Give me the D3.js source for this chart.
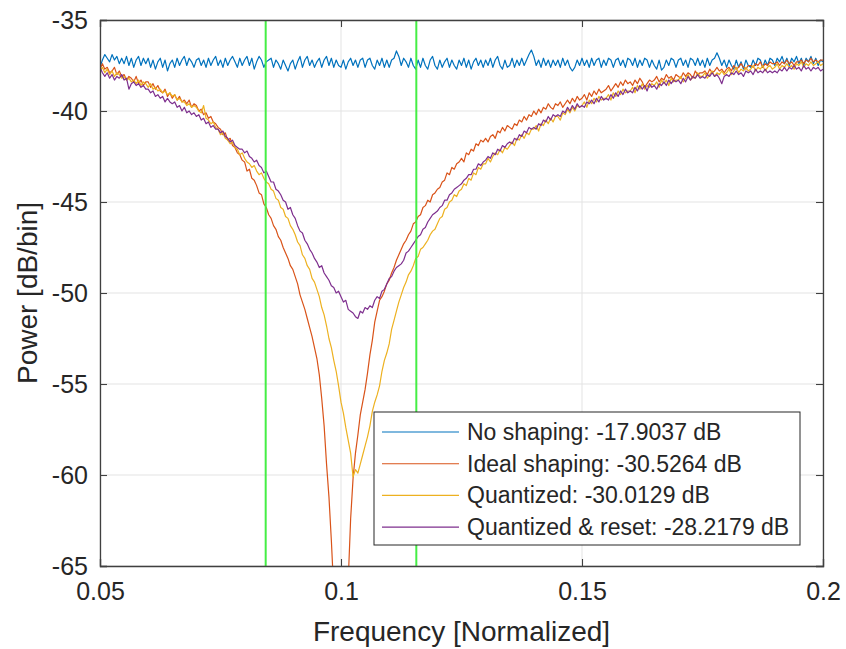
<!DOCTYPE html>
<html>
<head>
<meta charset="utf-8">
<script src="https://cdn.jsdelivr.net/npm/d3@7"></script>
<style>
  body { margin: 0; background: #fff; }
  text { font-family: "Liberation Sans", Arial, Helvetica, sans-serif; fill: #262626; }
</style>
</head>
<body>
<svg id="chart" width="846" height="649"></svg>
<script>
// Frequency grid: 0.05 .. 0.2, one sample every 0.0005 (301 bins)
var freqStart = 0.05, freqStep = 0.0005, nBins = 301;

// Power [dB/bin] per bin (rows of 10 bins = 0.005)
var noShaping = [
  -37.6,-37.2,-36.9,-37.1,-37.3,-36.9,-37.2,-37.0,-37.4,-37.1,
  -37.4,-37.0,-37.5,-37.1,-37.6,-37.2,-37.0,-37.5,-37.1,-37.4,
  -37.1,-37.6,-37.2,-37.7,-37.3,-37.1,-37.6,-37.2,-37.8,-37.4,
  -37.2,-37.6,-37.1,-37.5,-37.2,-37.0,-37.5,-37.1,-37.3,-37.6,
  -37.2,-37.1,-37.5,-37.2,-37.6,-37.1,-37.5,-37.2,-37.0,-37.5,
  -37.2,-37.6,-37.1,-37.5,-37.2,-37.0,-37.3,-37.6,-37.1,-37.5,
  -37.2,-37.0,-37.5,-37.1,-37.7,-37.3,-37.0,-37.2,-37.6,-37.3,
  -37.2,-37.1,-37.6,-37.2,-37.4,-37.7,-37.2,-37.5,-37.8,-37.4,
  -37.2,-37.7,-37.3,-37.0,-37.6,-37.2,-37.0,-37.5,-37.2,-37.6,
  -37.3,-37.1,-37.6,-37.2,-37.0,-37.5,-37.1,-37.6,-37.2,-37.5,
  -37.6,-37.2,-37.7,-37.3,-37.1,-37.5,-37.2,-37.6,-37.2,-37.1,
  -37.6,-37.2,-37.1,-37.5,-37.7,-37.2,-37.5,-37.1,-37.6,-37.2,
  -37.6,-37.2,-37.1,-36.7,-37.0,-37.5,-37.1,-37.3,-37.6,-37.1,
  -37.5,-37.7,-37.2,-37.6,-37.1,-37.5,-37.7,-37.2,-37.0,-37.5,
  -37.7,-37.2,-37.6,-37.3,-37.1,-37.6,-37.2,-37.5,-37.7,-37.2,
  -37.5,-37.1,-37.6,-37.2,-37.7,-37.3,-37.1,-37.5,-37.2,-37.6,
  -37.2,-37.5,-37.1,-37.6,-37.2,-37.0,-37.5,-37.7,-37.2,-37.6,
  -37.5,-37.1,-37.6,-37.2,-37.5,-37.1,-37.5,-37.2,-36.9,-36.65,
  -37.0,-37.5,-37.2,-37.6,-37.1,-37.5,-37.2,-37.6,-37.2,-37.5,
  -37.2,-37.6,-37.1,-37.5,-37.2,-37.6,-37.8,-37.6,-37.2,-37.5,
  -37.1,-37.5,-37.2,-37.6,-37.1,-37.5,-37.2,-37.1,-37.6,-37.2,
  -37.5,-37.1,-37.2,-37.6,-37.2,-37.1,-37.5,-37.2,-37.6,-37.1,
  -37.2,-37.5,-37.1,-37.6,-37.2,-37.5,-37.1,-37.2,-37.6,-37.2,
  -37.5,-37.7,-37.2,-37.75,-37.6,-37.2,-37.5,-37.1,-37.2,-37.6,
  -37.2,-37.1,-37.5,-37.2,-37.6,-37.1,-37.2,-37.5,-37.1,-37.5,
  -37.2,-37.6,-37.1,-37.5,-37.2,-37.1,-36.8,-37.1,-37.5,-37.2,
  -37.6,-37.2,-37.5,-37.7,-37.2,-37.6,-37.3,-37.7,-37.2,-37.5,
  -37.6,-37.2,-37.5,-37.1,-37.2,-37.6,-37.2,-37.5,-37.1,-37.2,
  -37.5,-37.1,-37.3,-37.0,-37.4,-37.1,-37.5,-37.1,-37.3,-37.0,
  -37.4,-37.1,-37.5,-37.1,-37.3,-37.0,-37.4,-37.1,-37.5,-37.2,
  -37.3
];

var idealShaping = [
  -37.7,-37.4,-37.7,-37.6,-37.9,-37.8,-37.6,-38.0,-37.8,-38.1,
  -38.0,-38.3,-38.1,-38.2,-38.4,-38.1,-38.5,-38.3,-38.6,-38.4,
  -38.4,-38.7,-38.5,-38.8,-38.6,-38.9,-39.0,-38.8,-39.2,-39.0,
  -39.3,-39.1,-39.4,-39.2,-39.5,-39.4,-39.6,-39.4,-39.8,-39.6,
  -39.7,-40.0,-39.9,-40.2,-40.1,-40.4,-40.3,-40.6,-40.7,-40.9,
  -41.0,-41.3,-41.2,-41.6,-41.5,-41.9,-42.0,-42.3,-42.4,-42.7,
  -42.8,-43.3,-43.2,-43.7,-43.8,-44.1,-44.5,-44.6,-45.1,-45.3,
  -45.7,-45.9,-46.3,-46.5,-46.9,-47.1,-47.5,-47.8,-48.1,-48.5,
  -48.7,-49.1,-49.5,-50.1,-50.5,-50.9,-51.4,-51.9,-52.4,-53.0,
  -53.6,-54.5,-55.8,-57.3,-59.4,-61.2,-63.6,-66.4,-70.0,-74.0,
  -80.0,-76.0,-70.5,-65.8,-62.4,-60.2,-58.8,-57.8,-56.7,-56.0,
  -55.3,-54.4,-53.4,-52.6,-51.6,-51.0,-50.4,-50.2,-49.9,-49.5,
  -49.3,-48.9,-48.6,-48.2,-47.9,-47.6,-47.3,-47.1,-46.8,-46.6,
  -46.2,-46.1,-45.8,-45.7,-45.3,-45.2,-44.9,-45.0,-44.6,-44.5,
  -44.3,-44.2,-43.9,-43.8,-43.4,-43.5,-43.1,-43.2,-42.9,-42.8,
  -42.6,-42.8,-42.3,-42.4,-42.1,-42.2,-41.8,-41.9,-41.6,-41.7,
  -41.5,-41.7,-41.4,-41.3,-41.5,-41.1,-41.2,-40.9,-41.1,-40.8,
  -40.9,-41.0,-40.7,-40.8,-40.5,-40.6,-40.3,-40.5,-40.2,-40.3,
  -40.0,-40.2,-39.9,-40.1,-39.8,-39.9,-39.6,-39.8,-39.9,-39.6,
  -39.7,-39.5,-39.8,-39.6,-39.4,-39.6,-39.3,-39.5,-39.2,-39.4,
  -39.3,-39.1,-39.4,-39.0,-39.2,-38.9,-39.1,-38.8,-39.0,-38.9,
  -38.8,-38.6,-38.9,-38.7,-38.5,-38.7,-38.4,-38.6,-38.3,-38.5,
  -38.4,-38.6,-38.3,-38.5,-38.2,-38.4,-38.7,-38.5,-38.3,-38.4,
  -38.3,-38.1,-38.4,-38.2,-38.3,-38.0,-38.2,-38.1,-38.3,-38.0,
  -38.1,-38.2,-37.9,-38.1,-37.9,-38.0,-38.2,-37.8,-38.0,-37.9,
  -37.9,-37.8,-38.0,-37.7,-37.9,-37.8,-37.6,-37.8,-37.7,-37.9,
  -37.7,-37.6,-37.8,-37.5,-37.7,-37.6,-37.4,-37.6,-37.7,-37.5,
  -37.5,-37.6,-37.4,-37.5,-37.3,-37.6,-37.4,-37.5,-37.3,-37.4,
  -37.4,-37.3,-37.5,-37.3,-37.4,-37.2,-37.4,-37.3,-37.5,-37.3,
  -37.3,-37.2,-37.4,-37.2,-37.3,-37.1,-37.3,-37.2,-37.3,-37.2,
  -37.2
];

var quantized = [
  -37.8,-37.6,-37.9,-37.7,-38.0,-37.8,-38.1,-37.9,-38.0,-38.2,
  -38.1,-38.3,-38.2,-38.4,-38.3,-38.5,-38.3,-38.6,-38.4,-38.5,
  -38.7,-38.5,-38.8,-38.7,-38.9,-38.8,-39.0,-38.9,-39.1,-39.0,
  -39.2,-39.1,-39.4,-39.3,-39.5,-39.5,-39.7,-39.6,-39.8,-39.7,
  -39.8,-40.0,-40.1,-39.7,-40.4,-40.5,-40.7,-40.6,-40.9,-41.0,
  -41.3,-41.2,-41.5,-41.6,-41.8,-41.7,-42.0,-42.1,-42.4,-42.3,
  -42.6,-42.8,-42.9,-43.1,-43.0,-43.3,-43.5,-43.4,-43.7,-43.9,
  -44.0,-44.3,-44.4,-44.8,-44.9,-45.3,-45.4,-45.8,-45.9,-46.3,
  -46.5,-46.8,-47.2,-47.4,-47.9,-48.1,-48.5,-48.7,-49.2,-49.4,
  -49.8,-50.2,-50.8,-51.2,-51.8,-52.5,-53.0,-53.7,-54.3,-55.1,
  -56.0,-56.6,-57.4,-58.1,-58.8,-60.1,-59.7,-59.9,-59.4,-58.9,
  -58.4,-57.9,-57.3,-56.5,-56.0,-55.6,-55.1,-54.3,-53.7,-53.3,
  -52.8,-52.0,-51.5,-51.0,-50.5,-50.1,-49.7,-49.4,-49.0,-48.8,
  -48.5,-48.1,-48.0,-47.6,-47.5,-47.3,-47.1,-46.8,-46.6,-46.5,
  -46.2,-45.9,-45.8,-45.4,-45.3,-45.0,-44.9,-44.6,-44.7,-44.4,
  -44.3,-44.0,-44.1,-43.7,-43.8,-43.4,-43.5,-43.1,-43.2,-42.9,
  -42.9,-42.6,-42.8,-42.5,-42.3,-42.4,-42.1,-42.3,-42.0,-42.1,
  -41.9,-41.7,-41.9,-41.5,-41.6,-41.3,-41.5,-41.2,-41.3,-41.0,
  -41.0,-40.8,-41.1,-40.7,-40.8,-40.5,-40.7,-40.4,-40.6,-40.3,
  -40.3,-40.5,-40.1,-40.2,-39.9,-40.1,-39.8,-40.0,-39.7,-39.8,
  -39.7,-39.5,-39.8,-39.4,-39.6,-39.3,-39.5,-39.2,-39.4,-39.3,
  -39.3,-39.1,-39.4,-39.0,-39.2,-38.9,-39.1,-38.8,-39.0,-38.9,
  -38.9,-38.7,-39.0,-38.6,-38.8,-38.5,-38.8,-38.6,-38.7,-38.5,
  -38.6,-38.4,-38.7,-38.3,-38.5,-38.3,-38.6,-38.2,-38.4,-38.3,
  -38.3,-38.1,-38.4,-38.2,-38.0,-38.3,-38.1,-38.2,-37.9,-38.1,
  -38.1,-37.9,-38.2,-38.0,-37.8,-38.1,-37.9,-38.0,-37.8,-38.0,
  -37.9,-37.7,-38.0,-37.8,-37.6,-37.9,-37.7,-37.8,-37.6,-37.8,
  -37.7,-37.5,-37.8,-37.6,-37.7,-37.5,-37.8,-37.6,-37.5,-37.7,
  -37.6,-37.4,-37.7,-37.5,-37.6,-37.4,-37.6,-37.5,-37.7,-37.4,
  -37.5,-37.3,-37.6,-37.4,-37.5,-37.3,-37.5,-37.4,-37.3,-37.5,
  -37.4
];

var quantizedReset = [
  -37.6,-37.9,-38.1,-37.9,-38.2,-38.0,-38.3,-38.1,-38.2,-38.0,
  -38.3,-38.2,-38.8,-38.5,-38.4,-38.6,-38.5,-38.7,-38.6,-38.8,
  -38.8,-39.0,-38.9,-39.2,-39.1,-39.3,-39.2,-39.5,-39.3,-39.5,
  -39.6,-39.5,-39.8,-39.7,-40.0,-39.8,-40.1,-40.0,-40.2,-40.1,
  -40.3,-40.2,-40.5,-40.4,-40.7,-40.6,-40.9,-40.8,-41.0,-41.0,
  -41.2,-41.1,-41.4,-41.5,-41.7,-41.6,-41.9,-42.0,-42.1,-42.1,
  -42.3,-42.2,-42.5,-42.6,-42.8,-42.7,-43.0,-43.1,-43.4,-43.3,
  -43.6,-43.9,-43.9,-44.3,-44.4,-44.6,-44.9,-45.0,-45.4,-45.3,
  -45.7,-45.9,-46.3,-46.6,-46.7,-47.1,-47.3,-47.6,-47.8,-48.1,
  -48.3,-48.6,-48.5,-48.9,-49.1,-49.3,-49.6,-49.7,-50.0,-49.9,
  -50.2,-50.5,-50.4,-50.9,-51.0,-51.1,-51.3,-51.4,-51.0,-51.1,
  -50.8,-50.9,-50.7,-50.8,-50.4,-50.2,-50.3,-49.9,-49.8,-49.5,
  -49.2,-49.1,-48.8,-48.6,-48.5,-48.4,-48.2,-47.8,-47.7,-47.5,
  -47.3,-47.1,-46.9,-46.8,-46.5,-46.4,-46.1,-45.9,-45.7,-45.6,
  -45.5,-45.3,-45.2,-44.9,-44.9,-44.6,-44.5,-44.3,-44.2,-44.1,
  -44.0,-43.8,-43.7,-43.5,-43.5,-43.2,-43.2,-42.9,-43.0,-42.8,
  -42.7,-42.5,-42.6,-42.3,-42.4,-42.1,-42.2,-41.9,-42.0,-41.8,
  -41.7,-41.8,-41.5,-41.6,-41.3,-41.4,-41.1,-41.2,-40.9,-41.0,
  -40.9,-41.0,-40.7,-40.8,-40.5,-40.6,-40.3,-40.5,-40.2,-40.3,
  -40.2,-40.3,-40.0,-40.1,-39.8,-40.0,-39.7,-39.9,-39.6,-39.8,
  -39.7,-39.8,-39.5,-39.6,-39.4,-39.6,-39.3,-39.5,-39.2,-39.4,
  -39.3,-39.4,-39.1,-39.3,-39.0,-39.2,-38.9,-39.1,-38.8,-39.0,
  -38.9,-39.0,-38.7,-38.9,-38.6,-38.8,-38.6,-38.9,-38.5,-38.7,
  -38.6,-38.8,-38.5,-38.6,-38.4,-38.6,-38.3,-38.5,-38.3,-38.4,
  -38.3,-38.5,-38.2,-38.4,-38.1,-38.3,-38.1,-38.2,-38.0,-38.2,
  -38.1,-38.2,-38.0,-38.1,-37.9,-38.1,-38.0,-38.2,-38.5,-38.1,
  -38.0,-38.1,-37.9,-38.0,-37.8,-38.0,-37.9,-38.1,-37.8,-37.9,
  -37.8,-38.0,-37.7,-37.9,-37.8,-37.9,-37.7,-37.9,-37.8,-37.9,
  -37.8,-37.9,-37.7,-37.8,-37.6,-37.8,-37.6,-37.7,-37.5,-37.7,
  -37.6,-37.8,-37.5,-37.7,-37.6,-37.8,-37.6,-37.7,-37.6,-37.8,
  -37.7
];

var seriesNames = [
  'No shaping: -17.9037 dB',
  'Ideal shaping: -30.5264 dB',
  'Quantized: -30.0129 dB',
  'Quantized & reset: -28.2179 dB'
];
var seriesColors = ['#0072BD', '#D95319', '#EDB120', '#7E2F8E'];

// Signal band edges (0.1 +/- 1/64)
var bandEdges = [0.084375, 0.115625];

var xTicks = [0.05, 0.1, 0.15, 0.2];
var yTicks = [-35, -40, -45, -50, -55, -60, -65];

// Layout
var margin = { top: 20, left: 100, right: 23, bottom: 83 };
var W = 846, H = 649;
var plotW = W - margin.left - margin.right;
var plotH = H - margin.top - margin.bottom;

var svg = d3.select('#chart');

var x = d3.scaleLinear().domain([0.05, 0.2]).range([0, plotW]);
var y = d3.scaleLinear().domain([-65, -35]).range([plotH, 0]);

var g = svg.append('g')
           .attr('transform', 'translate(' + margin.left + ',' + margin.top + ')');

g.append('clipPath').attr('id', 'plotclip')
 .append('rect').attr('width', plotW).attr('height', plotH);

// Grid
g.append('g').selectAll('line.vg').data(xTicks).enter().append('line')
  .attr('x1', function(d) { return x(d); }).attr('x2', function(d) { return x(d); })
  .attr('y1', 0).attr('y2', plotH)
  .attr('stroke', '#e3e3e3').attr('stroke-width', 1);
g.append('g').selectAll('line.hg').data(yTicks).enter().append('line')
  .attr('y1', function(d) { return y(d); }).attr('y2', function(d) { return y(d); })
  .attr('x1', 0).attr('x2', plotW)
  .attr('stroke', '#e3e3e3').attr('stroke-width', 1);

// Curves
var allSeries = [noShaping, idealShaping, quantized, quantizedReset];
var line = d3.line()
  .x(function(d, i) { return x(freqStart + i * freqStep); })
  .y(function(d) { return y(d); });

var curves = g.append('g').attr('clip-path', 'url(#plotclip)');
allSeries.forEach(function(s, k) {
  curves.append('path')
    .datum(s.slice(0, nBins))
    .attr('d', line)
    .attr('fill', 'none')
    .attr('stroke', seriesColors[k])
    .attr('stroke-width', 1.2)
    .attr('stroke-linejoin', 'round');
});

// Band edges (green)
curves.selectAll('line.band').data(bandEdges).enter().append('line')
  .attr('x1', function(d) { return x(d); }).attr('x2', function(d) { return x(d); })
  .attr('y1', 0).attr('y2', plotH)
  .attr('stroke', '#45ee45').attr('stroke-width', 2);

// Axes (MATLAB style: box with inward ticks)
var tickLen = 7;
var axisColor = '#404040';
var plainFmt = function(d) { return String(d); };   // hyphen minus, like the original
var xAxisB = d3.axisBottom(x).tickValues(xTicks).tickSize(-tickLen).tickPadding(16).tickFormat(plainFmt);
var xAxisT = d3.axisTop(x).tickValues(xTicks).tickSize(-tickLen).tickFormat('');
var yAxisL = d3.axisLeft(y).tickValues(yTicks).tickSize(-tickLen).tickPadding(12).tickFormat(plainFmt);
var yAxisR = d3.axisRight(y).tickValues(yTicks).tickSize(-tickLen).tickFormat('');

function styleAxis(sel) {
  sel.select('.domain').attr('stroke', axisColor).attr('stroke-width', 1.3);
  sel.selectAll('.tick line').attr('stroke', axisColor).attr('stroke-width', 1.1);
  sel.selectAll('.tick text')
     .attr('fill', '#262626')
     .style('font-size', '25px')
     .style('font-family', '"Liberation Sans", Arial, Helvetica, sans-serif');
}

g.append('g').attr('transform', 'translate(0,' + plotH + ')').call(xAxisB).call(styleAxis);
g.append('g').call(xAxisT).call(styleAxis);
g.append('g').call(yAxisL).call(styleAxis);
g.append('g').attr('transform', 'translate(' + plotW + ',0)').call(yAxisR).call(styleAxis);

// Axis labels
svg.append('text')
   .attr('x', margin.left + plotW / 2)
   .attr('y', 641)
   .attr('text-anchor', 'middle')
   .style('font-size', '28px')
   .text('Frequency [Normalized]');

svg.append('text')
   .attr('transform', 'translate(37,' + (margin.top + plotH / 2) + ') rotate(-90)')
   .attr('text-anchor', 'middle')
   .style('font-size', '28px')
   .text('Power [dB/bin]');

// Legend
var lg = { x: 374, y: 412, w: 426, h: 133, rowH: 31.7, first: 20, lineX1: 8, lineX2: 85, textX: 93 };
var legend = svg.append('g').attr('transform', 'translate(' + lg.x + ',' + lg.y + ')');
legend.append('rect')
  .attr('width', lg.w).attr('height', lg.h)
  .attr('fill', '#fff').attr('stroke', '#262626').attr('stroke-width', 1);
var rows = legend.selectAll('g.row').data(seriesNames).enter().append('g')
  .attr('transform', function(d, i) { return 'translate(0,' + (lg.first + i * lg.rowH) + ')'; });
rows.append('line')
  .attr('x1', lg.lineX1).attr('x2', lg.lineX2)
  .attr('stroke', function(d, i) { return seriesColors[i]; })
  .attr('stroke-width', 1.1);
rows.append('text')
  .attr('x', lg.textX)
  .attr('dy', '0.35em')
  .style('font-size', '23px')
  .text(function(d) { return d; });
</script>
</body>
</html>
